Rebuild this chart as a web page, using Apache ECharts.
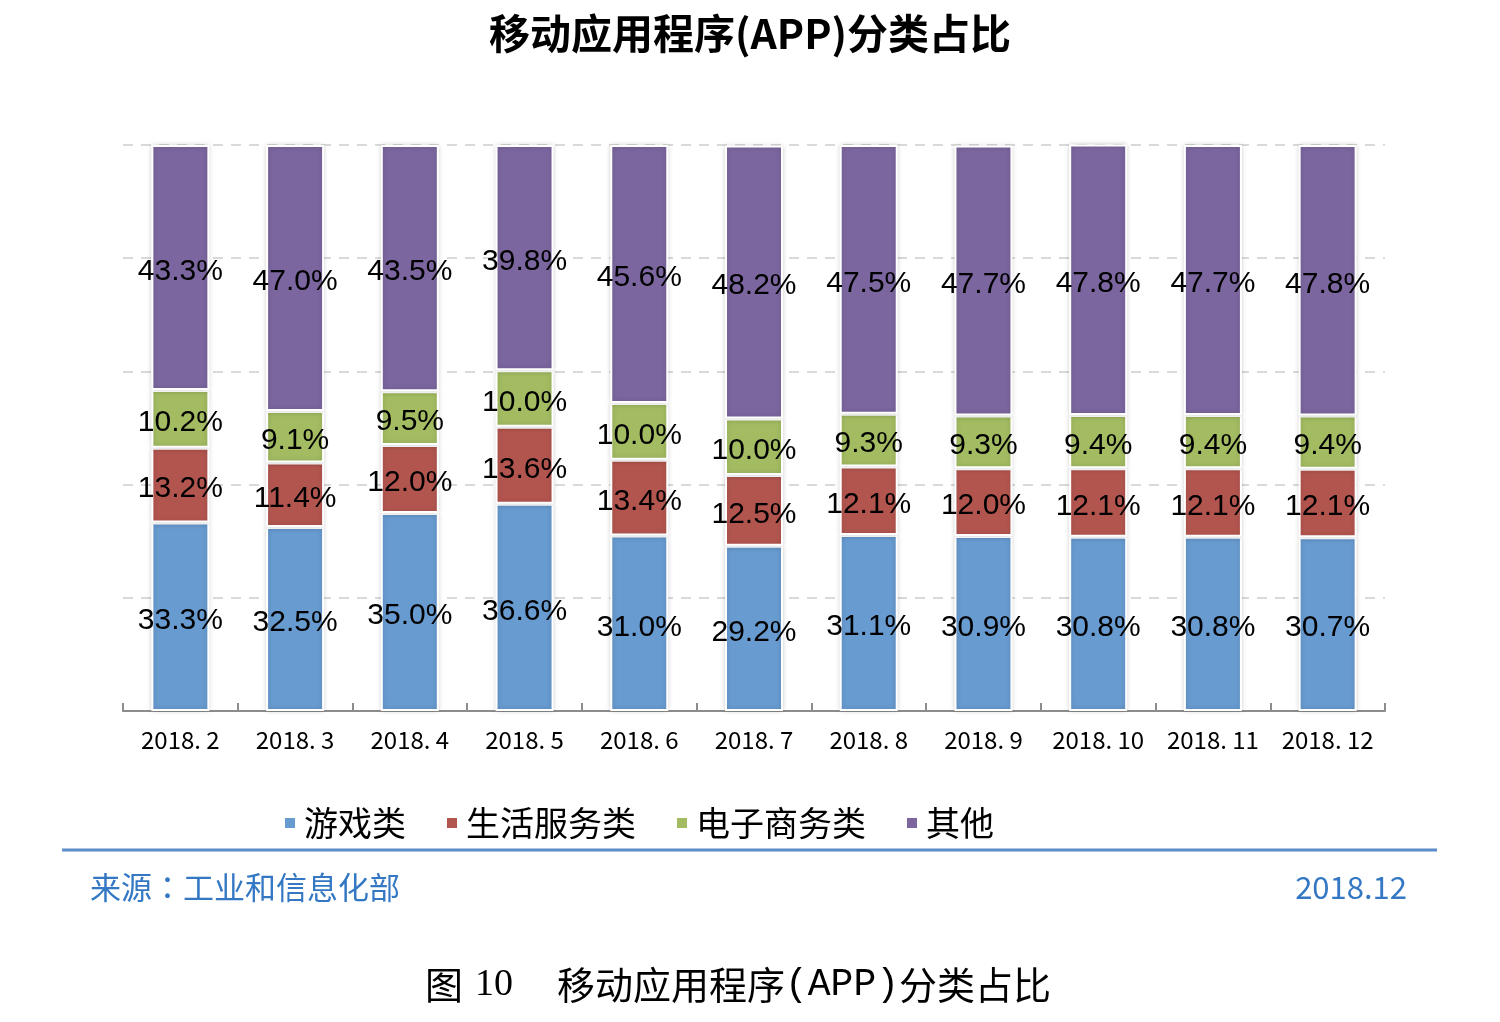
<!DOCTYPE html>
<html><head><meta charset="utf-8">
<script src="https://cdn.jsdelivr.net/npm/echarts@6/dist/echarts.min.js"></script>
<style>html,body{margin:0;padding:0;background:#fff}#c{width:1500px;height:1022px}</style>
</head><body><div id="c"></div>
<script>
const categories = ['2018. 2','2018. 3','2018. 4','2018. 5','2018. 6','2018. 7','2018. 8','2018. 9','2018. 10','2018. 11','2018. 12'];
const seriesNames = ['游戏类','生活服务类','电子商务类','其他'];
const games = [33.3,32.5,35.0,36.6,31.0,29.2,31.1,30.9,30.8,30.8,30.7];
const life = [13.2,11.4,12.0,13.6,13.4,12.5,12.1,12.0,12.1,12.1,12.1];
const ecommerce = [10.2,9.1,9.5,10.0,10.0,10.0,9.3,9.3,9.4,9.4,9.4];
const others = [43.3,47.0,43.5,39.8,45.6,48.2,47.5,47.7,47.8,47.7,47.8];
const colors = ['#689BD0','#B3554F','#A3BC62','#7B669F'];
const allData = [games, life, ecommerce, others];

const chart = echarts.init(document.getElementById('c'));
const cjk = '"Noto Sans CJK SC", sans-serif';
chart.setOption({
  animation: false,
  title: {
    text: '移动应用程序(APP)分类占比', left: 'center', top: 8,
    textStyle: {fontSize: 41, fontWeight: 'bold', color: '#000', fontFamily: cjk}
  },
  legend: {
    data: seriesNames, left: 278, top: 801, icon: 'rect', itemWidth: 12, itemHeight: 12, itemGap: 39,
    textStyle: {fontSize: 34, color: '#000', fontFamily: cjk, padding: [0,0,0,3]}
  },
  grid: {left: 123, right: 115, top: 145, bottom: 311},
  xAxis: {
    type: 'category', data: categories,
    axisLine: {lineStyle: {color: '#8C8C8C', width: 2}},
    axisTick: {show: true, inside: true, length: 8, interval: 0, lineStyle: {color: '#8C8C8C', width: 2}},
    axisLabel: {fontSize: 24, color: '#000', margin: 17, fontFamily: cjk, interval: 0}
  },
  yAxis: {
    type: 'value', min: 0, max: 100, interval: 20,
    axisLabel: {show: false}, axisLine: {show: false}, axisTick: {show: false},
    splitLine: {lineStyle: {color: '#D9D9D9', width: 2, type: [10, 8]}}
  },
  series: allData.map((d, i) => ({
    name: seriesNames[i], type: 'bar', stack: 'total', data: d, barWidth: 58,
    itemStyle: {color: colors[i], borderColor: '#fff', borderWidth: 2, shadowBlur: 5, shadowColor: 'rgba(0,0,0,0.18)'},
    label: {
      show: true, position: 'inside', color: '#000', fontSize: 30, offset: [0, 4],
      fontFamily: '"Liberation Sans", Arial, sans-serif',
      formatter: p => p.value.toFixed(1) + '%'
    }
  })),
  graphic: [
    {type: 'line', shape: {x1: 62, y1: 850, x2: 1437, y2: 850}, style: {stroke: '#5B8CCB', lineWidth: 3}},
    {type: 'text', left: 90, top: 872, style: {
      text: '{a|来源}{c|：}{a|工业和信息化部}',
      rich: {a: {fontSize: 31, fill: '#3478C4', fontFamily: cjk}, c: {fontSize: 31, fill: '#3478C4', fontFamily: '"Noto Sans CJK TC", sans-serif'}}
    }},
    {type: 'text', right: 93, top: 872, style: {text: '2018.12', fontSize: 31, fill: '#3478C4', fontFamily: cjk}},
    {type: 'text', left: 425, top: 966, style: {text: '图', fontSize: 38, fontFamily: cjk, fill: '#000'}},
    {type: 'text', left: 475, top: 966, style: {text: '10', fontSize: 38, fontFamily: '"Liberation Serif", serif', fill: '#000'}},
    {type: 'text', left: 557, top: 966, style: {
      text: '{a|移动应用程序}{m|(APP)}{a|分类占比}',
      rich: {a: {fontSize: 38, fontFamily: cjk, fill: '#000'}, m: {fontSize: 38, fontFamily: '"Liberation Mono", monospace', fill: '#000'}}
    }}
  ]
});
</script></body></html>
